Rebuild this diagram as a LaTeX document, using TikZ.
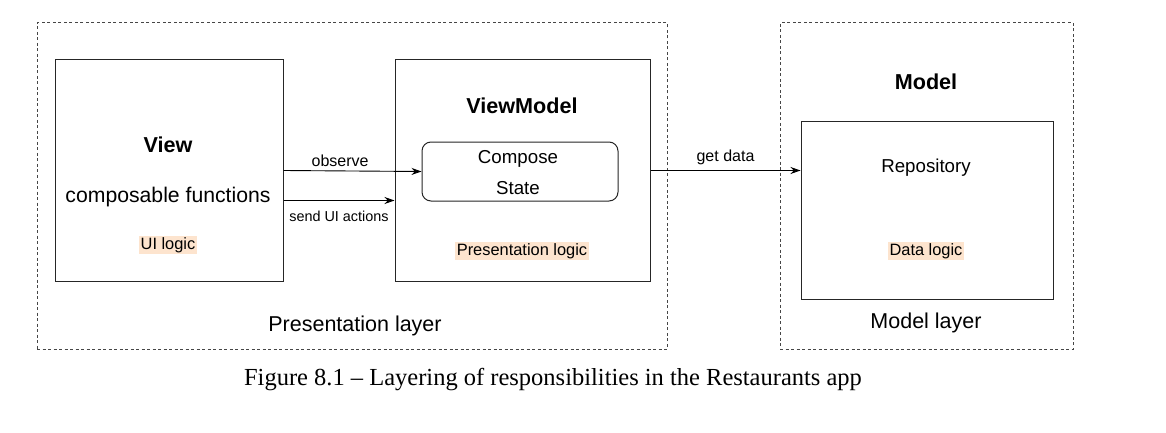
\documentclass[tikz,border=0pt]{standalone}
\usepackage{fontspec}
\setmainfont{Liberation Sans}
\newfontfamily\captionfont{Liberation Serif}
\usetikzlibrary{arrows.meta}
\definecolor{hlpeach}{RGB}{253,228,206}
\definecolor{layergray}{RGB}{70,70,70}
\tikzset{
	layerbox/.style={draw=layergray, line width=1pt, dash pattern=on 3pt off 2.5pt, inner sep=0pt},
	partbox/.style={draw=black!85, line width=1pt, inner sep=0pt},
	statebox/.style={draw=black!85, line width=1pt, rounded corners=9pt, inner sep=0pt},
	title/.style={font=\fontsize{21.6}{24}\selectfont\bfseries},
	plain/.style={font=\fontsize{18.7}{22}\selectfont},
	logic/.style={font=\fontsize{16.4}{19}\selectfont, fill=hlpeach, inner sep=1.5pt},
	flow/.style={font=\fontsize{15}{18}\selectfont},
	layername/.style={font=\fontsize{21.5}{25}\selectfont},
	arr/.style={-{Stealth[length=10pt,width=7pt]}, line width=0.9pt}
}
\begin{document}
\begin{tikzpicture}[x=1pt,y=-1pt]
	\useasboundingbox[fill=white] (0,0) rectangle (1166,433);
	% layers
	\node[layerbox, minimum width=630pt, minimum height=326pt] (preslayer) at (352,186) {};
	\node[layerbox, minimum width=293pt, minimum height=326pt] (modellayer) at (926.5,186) {};
	% parts
	\node[partbox, minimum width=228pt, minimum height=221pt] (view) at (169,170.5) {};
	\node[partbox, minimum width=255pt, minimum height=221pt] (vm) at (522.5,170.5) {};
	\node[statebox, minimum width=196pt, minimum height=59pt] (state) at (520,171.5) {};
	\node[partbox, minimum width=252pt, minimum height=177pt] (repo) at (927,210.5) {};
	% texts
	\node[title] (viewtitle) at (168,145) {View};
	\node[font=\fontsize{21.2}{24}\selectfont] (viewfun) at (168,197) {composable functions};
	\node[logic] (uilogic) at (168,245) {UI logic};
	\node[title] (vmtitle) at (522,106) {ViewModel};
	\node[plain] (compose) at (518,159) {Compose};
	\node[plain] (statetext) at (518,188) {State};
	\node[logic] (preslogic) at (522,251) {Presentation logic};
	\node[title] (modeltitle) at (926,82) {Model};
	\node[plain] (repotext) at (926,167.5) {Repository};
	\node[logic] (datalogic) at (926,251) {Data logic};
	\node[layername] (preslabel) at (355,326) {Presentation layer};
	\node[layername] (modellabel) at (926,323) {Model layer};
	% connectors
	\draw[arr] (view.east) -- node[flow, font=\fontsize{16}{18}\selectfont, above, pos=0.41] {observe} (state.west);
	\draw[arr] ([yshift=-30pt]view.east) -- node[flow, font=\fontsize{14.4}{17}\selectfont, below, yshift=-7pt] {send UI actions} ([yshift=-30pt]vm.west);
	\draw[arr] (vm.east) -- node[flow, font=\fontsize{16}{18}\selectfont, above, yshift=2pt] {get data} (vm.east -| repo.west);
	% caption
	\node[font=\captionfont\fontsize{24.5}{28}\selectfont] (caption) at (553,380) {Figure 8.1 – Layering of responsibilities in the Restaurants app};
\end{tikzpicture}
\end{document}
